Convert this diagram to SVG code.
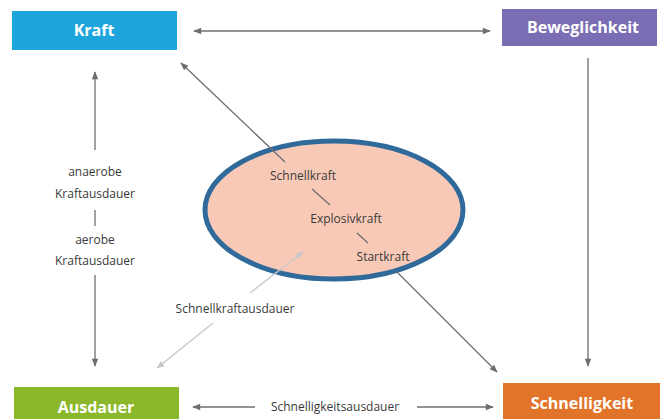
<svg xmlns="http://www.w3.org/2000/svg" width="660" height="419" viewBox="0 0 660 419">
<defs>
<marker id="ah" viewBox="0 0 10 10" refX="9" refY="5" markerWidth="10" markerHeight="8" markerUnits="userSpaceOnUse" orient="auto-start-reverse">
<path d="M0,1 L10,5 L0,9 Z" fill="#6e6e6e"/>
</marker>
<marker id="ahl" viewBox="0 0 10 10" refX="9" refY="5" markerWidth="10" markerHeight="8" markerUnits="userSpaceOnUse" orient="auto-start-reverse">
<path d="M0,1 L10,5 L0,9 Z" fill="#c8c8c8"/>
</marker>
<style>
.box{font-family:"Open Sans","Noto Sans",sans-serif;font-weight:bold;font-size:16px;fill:#ffffff;text-anchor:middle}
.lbl{font-family:"Open Sans","Noto Sans",sans-serif;font-size:12px;fill:#3a3a3a;text-anchor:middle}
.ln{stroke:#6e6e6e;stroke-width:1.3;fill:none}
.lnl{stroke:#c8c8c8;stroke-width:1.3;fill:none}
</style>
</defs>
<rect width="660" height="419" fill="#ffffff"/>
<g id="ellipse">
<ellipse cx="334" cy="210" rx="129" ry="69" fill="#f8c9b6" stroke="#2f6a9b" stroke-width="5"/>
<text class="lbl" x="303" y="180">Schnellkraft</text>
<text class="lbl" x="346" y="223">Explosivkraft</text>
<text class="lbl" x="383" y="261">Startkraft</text>
</g>
<g id="connectors">
<line class="ln" x1="194" y1="31" x2="490" y2="31" marker-start="url(#ah)" marker-end="url(#ah)"/>
<line class="ln" x1="588" y1="58" x2="588" y2="366" marker-end="url(#ah)"/>
<line class="ln" x1="95" y1="150" x2="95" y2="72" marker-end="url(#ah)"/>
<line class="ln" x1="95" y1="210" x2="95" y2="226"/>
<line class="ln" x1="95" y1="275" x2="95" y2="366" marker-end="url(#ah)"/>
<line class="ln" x1="285" y1="162" x2="181" y2="63" marker-end="url(#ah)"/>
<line class="ln" x1="312" y1="189" x2="330" y2="205"/>
<line class="ln" x1="357" y1="233" x2="368" y2="243"/>
<line class="ln" x1="397" y1="272" x2="497" y2="372" marker-end="url(#ah)"/>
<line class="lnl" x1="213" y1="323" x2="157" y2="368" marker-end="url(#ahl)"/>
<line class="lnl" x1="250" y1="293" x2="303" y2="252" marker-end="url(#ahl)"/>
<line class="ln" x1="255" y1="407" x2="193" y2="407" marker-end="url(#ah)"/>
<line class="ln" x1="417" y1="407" x2="493" y2="407" marker-end="url(#ah)"/>
</g>
<g id="kraft">
<rect x="12" y="11" width="165" height="39" fill="#1ea6dc"/>
<text class="box" x="94" y="36">Kraft</text>
</g>
<g id="beweglichkeit">
<rect x="502" y="9" width="155" height="37" fill="#7a6db4"/>
<text class="box" x="583" y="33">Beweglichkeit</text>
</g>
<g id="ausdauer">
<rect x="14" y="387" width="165" height="32" fill="#8bb82b"/>
<text class="box" x="96" y="413">Ausdauer</text>
</g>
<g id="schnelligkeit">
<rect x="503" y="383" width="157" height="36" fill="#e2742a"/>
<text class="box" x="582" y="409">Schnelligkeit</text>
</g>
<g id="labels">
<text class="lbl" x="95" y="176">anaerobe</text>
<text class="lbl" x="95" y="198">Kraftausdauer</text>
<text class="lbl" x="95" y="244">aerobe</text>
<text class="lbl" x="95" y="265">Kraftausdauer</text>
<text class="lbl" x="235" y="313">Schnellkraftausdauer</text>
<text class="lbl" x="335" y="411">Schnelligkeitsausdauer</text>
</g>
</svg>
